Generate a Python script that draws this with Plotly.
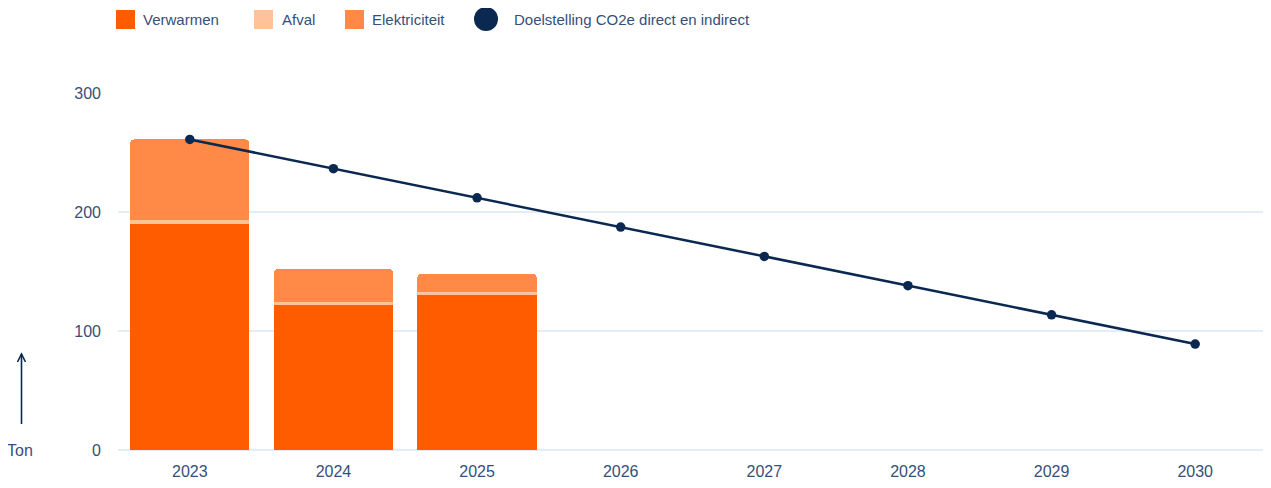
import plotly.graph_objects as go

years = ["2023", "2024", "2025", "2026", "2027", "2028", "2029", "2030"]
bar_years = ["2023", "2024", "2025"]
verwarmen = [190, 122, 130]
afval = [3, 2.5, 3]
elektriciteit = [68, 27.5, 15]
doelstelling = [261, 236.4, 211.9, 187.3, 162.7, 138.1, 113.6, 89]
y_ticks = [0, 100, 200, 300]

C_VERW = "#FF5C00"
C_AFVAL = "#FFC299"
C_ELEK = "#FF8A47"
C_LINE = "#0A2850"
C_TEXT = "#34507A"
C_GRID = "#E2EDF8"
FONT = "Liberation Sans"

fig = go.Figure()
fig.add_bar(x=bar_years, y=verwarmen, name="Verwarmen", marker_color=C_VERW, marker_line_width=0, showlegend=False)
fig.add_bar(x=bar_years, y=afval, name="Afval", marker_color=C_AFVAL, marker_line_width=0, showlegend=False)
fig.add_bar(x=bar_years, y=elektriciteit, name="Elektriciteit", marker_color=C_ELEK, marker_line_width=0, showlegend=False)
fig.add_scatter(x=years, y=doelstelling, mode="lines+markers", name="Doelstelling CO2e direct en indirect",
                line=dict(color=C_LINE, width=2.5), marker=dict(color=C_LINE, size=9.5), showlegend=False)

shapes = []
annotations = []
# manual legend (pixel offsets relative to top-left of plot area)
legend_items = [
    ("Verwarmen", C_VERW, "rect", -2, 23),
    ("Afval", C_AFVAL, "rect", 136, 162),
    ("Elektriciteit", C_ELEK, "rect", 227, 252),
    ("Doelstelling CO2e direct en indirect", C_LINE, "circle", 356, 394),
]
for label, color, kind, sx, tx in legend_items:
    if kind == "rect":
        x0, x1, y0, y1 = sx, sx + 19, 64, 83
    else:
        x0, x1, y0, y1 = sx, sx + 24, 62, 86
    shapes.append(dict(type=kind, xref="paper", yref="paper", xsizemode="pixel", ysizemode="pixel",
                       xanchor=0, yanchor=1, x0=x0, x1=x1, y0=y0, y1=y1,
                       fillcolor=color, line=dict(width=0)))
    annotations.append(dict(text=label, xref="paper", yref="paper", x=0, y=1, xshift=tx, yshift=74,
                            xanchor="left", yanchor="middle", showarrow=False,
                            font=dict(family=FONT, size=15, color=C_TEXT)))

# "Ton" arrow
shapes.append(dict(type="line", xref="paper", yref="paper", xsizemode="pixel", ysizemode="pixel",
                   xanchor=0, yanchor=0, x0=-96.5, x1=-96.5, y0=26, y1=96,
                   line=dict(color=C_LINE, width=1.6)))
shapes.append(dict(type="path", xref="paper", yref="paper", xsizemode="pixel", ysizemode="pixel",
                   xanchor=0, yanchor=0, path="M -100.5 88 L -96.5 96 L -92.5 88",
                   line=dict(color=C_LINE, width=1.6)))
annotations.append(dict(text="Ton", xref="paper", yref="paper", x=0, y=0, xshift=-98, yshift=0,
                        xanchor="center", yanchor="middle", showarrow=False,
                        font=dict(family=FONT, size=16, color=C_TEXT)))

# page body has an 8px margin, so the figure is 8px smaller and margins shifted
fig.update_layout(
    barmode="stack",
    bargap=0.17,
    barcornerradius=4,
    width=1263, height=480,
    margin=dict(l=110, r=4, t=85, b=38, pad=0),
    plot_bgcolor="white", paper_bgcolor="white",
    font=dict(family=FONT, size=16, color=C_TEXT),
    shapes=shapes,
    annotations=annotations,
    xaxis=dict(type="category", categoryorder="array", categoryarray=years,
               range=[-0.5, len(years) - 0.5],
               showgrid=False, showline=False, ticks="", ticklabelstandoff=10,
               tickfont=dict(family=FONT, size=16, color=C_TEXT)),
    yaxis=dict(range=[0, 300], tickvals=y_ticks, showgrid=True, gridcolor=C_GRID, gridwidth=1.5,
               zeroline=True, zerolinecolor=C_GRID, zerolinewidth=1.5, showline=False, ticks="",
               ticklabelstandoff=16, tickfont=dict(family=FONT, size=16, color=C_TEXT)),
)

fig.write_html("out.html")
